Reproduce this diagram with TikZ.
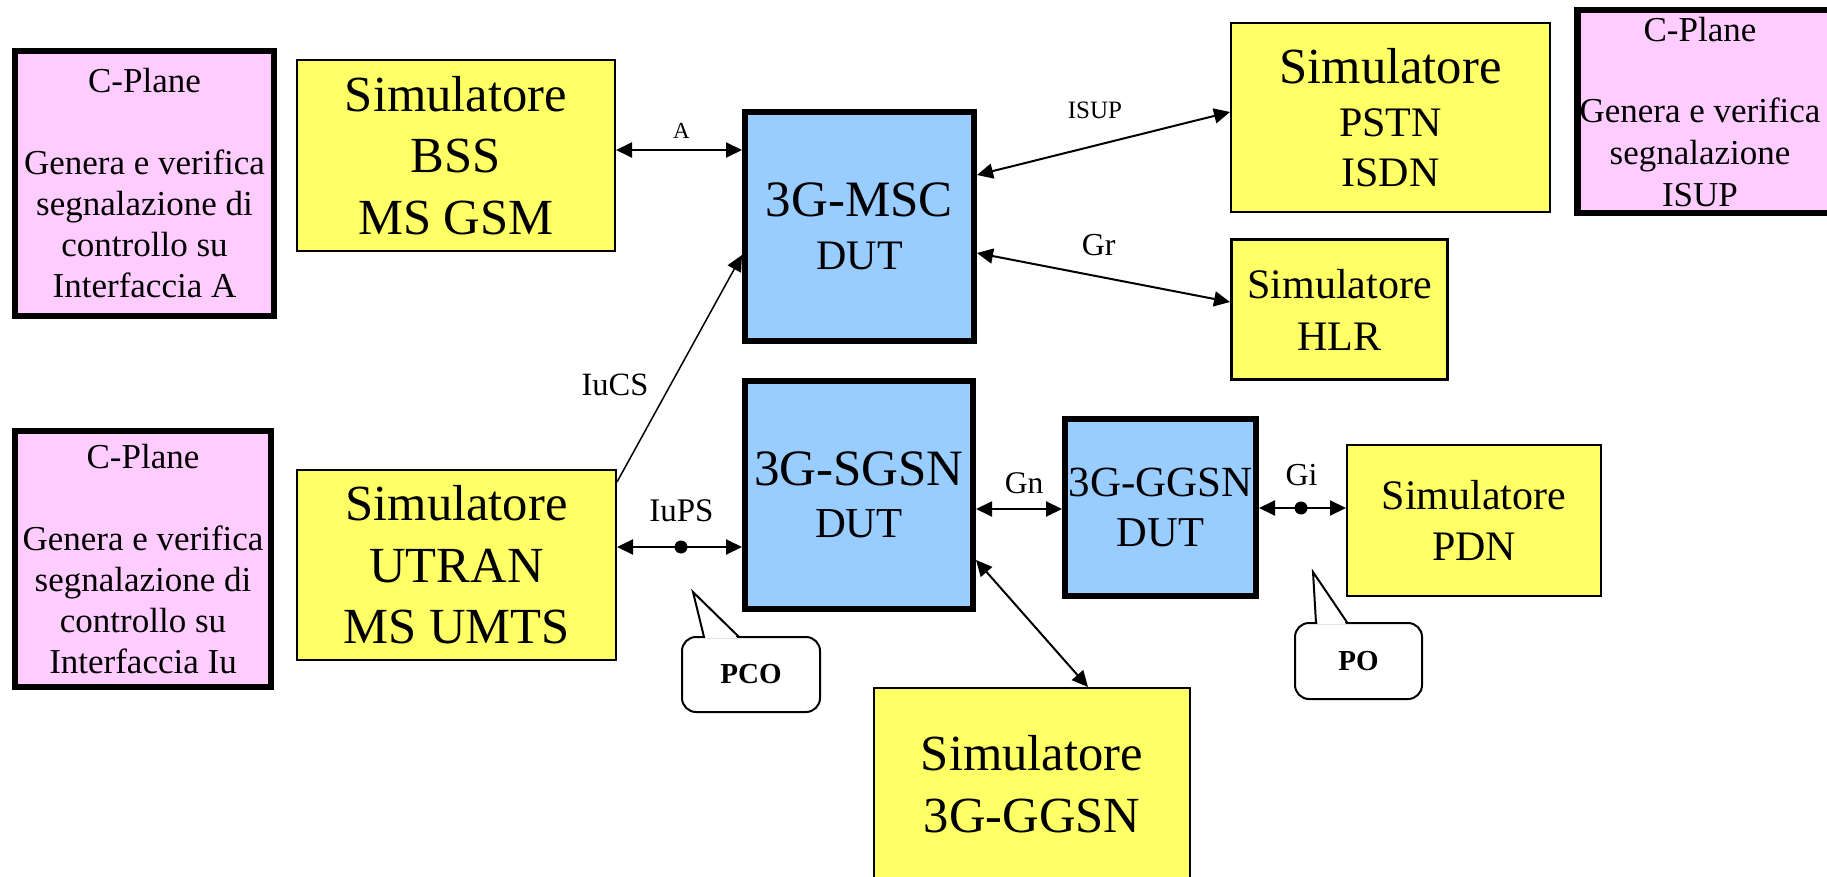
\documentclass[tikz,border=0pt]{standalone}
\usepackage{fontspec}
\setmainfont{Liberation Serif}
\usetikzlibrary{arrows.meta,calc}

\definecolor{simyellow}{HTML}{FFFF66}
\definecolor{cpink}{HTML}{FFCCFF}
\definecolor{dutblue}{HTML}{99CCFF}

\newcommand{\fsz}[2]{\fontsize{#1}{#2}\selectfont}

\begin{document}
\begin{tikzpicture}[x=1pt,y=-1pt,
  sim/.style={draw=black, fill=simyellow, line width=2pt, inner sep=0pt, align=center},
  cplane/.style={draw=black, fill=cpink, line width=6.5pt, inner sep=0pt, align=center, font=\fsz{35}{41}},
  dut/.style={draw=black, fill=dutblue, line width=6pt, inner sep=0pt, align=center},
  tipA/.tip={Triangle[length=16pt,width=15pt]},
  link/.style={line width=2pt, tipA-tipA},
  uplink/.style={line width=1.5pt, -tipA},
  lbl/.style={inner sep=0pt, anchor=base},
  probe/.style={circle, fill=black, inner sep=0pt, minimum size=13pt},
  callbox/.style={draw=black, fill=white, line width=2pt, rounded corners=14pt, inner sep=0pt, font=\bfseries\fsz{29}{35}},
]
\useasboundingbox (0,0) rectangle (1827,877);

% control-plane boxes
\node[cplane, minimum width=259pt, minimum height=265pt] (cpA) at (144.5,183.5)
  {C-Plane\\[41pt]Genera e verifica\\segnalazione di\\controllo su\\Interfaccia A};
\node[cplane, minimum width=256pt, minimum height=256pt] (cpIu) at (143,559)
  {C-Plane\\[41pt]Genera e verifica\\segnalazione di\\controllo su\\Interfaccia Iu};
% the ISUP box runs past the right edge of the sheet
\node[cplane, minimum width=268pt, minimum height=203pt] (cpI) at (1711.25,111.5) {};
\node[inner sep=0pt, align=center, font=\fsz{35}{42}] (cpItext) at (1700,112.5)
  {C-Plane\\[39pt]Genera e verifica\\segnalazione\\ISUP};

% simulators
\node[sim, minimum width=318pt, minimum height=191pt, font=\fsz{50.6}{61.5}] (bss) at (456,155.5)
  {Simulatore\\BSS\\MS GSM};
\node[sim, minimum width=319pt, minimum height=190pt, font=\fsz{50.6}{61.5}] (utran) at (456.5,565)
  {Simulatore\\UTRAN\\MS UMTS};
\node[sim, minimum width=319pt, minimum height=189pt, font=\fsz{42}{50}] (pstn) at (1390.5,117.5)
  {{\fsz{50.6}{50}Simulatore}\\[3.3pt]PSTN\\ISDN};
\node[sim, line width=3pt, minimum width=216pt, minimum height=140pt, font=\fsz{42}{52}] (hlr) at (1339.5,309.5)
  {Simulatore\\HLR};
\node[sim, minimum width=254pt, minimum height=151pt, font=\fsz{42}{51}] (pdn) at (1474,520.5)
  {Simulatore\\PDN};
\node[sim, minimum width=316pt, minimum height=192pt, font=\fsz{50.6}{62}] (ggsnsim) at (1032,784)
  {Simulatore\\3G-GGSN};

% devices under test
\node[dut, minimum width=229pt, minimum height=229pt, font=\fsz{42}{53}, text depth=-6pt] (msc) at (859.5,226.5)
  {{\fsz{51}{53}3G-MSC}\\DUT};
\node[dut, minimum width=228pt, minimum height=228pt, font=\fsz{42.7}{52}, text depth=-2pt] (sgsn) at (859,495)
  {{\fsz{51}{52}3G-SGSN}\\DUT};
\node[dut, minimum width=191pt, minimum height=177pt, font=\fsz{42.5}{50}] (ggsn) at (1160.5,507.5)
  {{\fsz{43}{50}3G-GGSN}\\DUT};

% interfaces
\coordinate (aL) at ([yshift=5.5pt]bss.east);
\draw[link] (aL) -- (aL -| msc.west);
\node[lbl, font=\fsz{23}{28}] (lA) at (681.5,139) {A};

\draw[link] ([yshift=51.5pt]msc.east) -- ([yshift=5.5pt]pstn.west);
\node[lbl, font=\fsz{25}{30}] (lISUP) at (1095,118.3) {ISUP};

\draw[link] ([yshift=-26.5pt]msc.east) -- ([yshift=7.5pt]hlr.west);
\node[lbl, font=\fsz{32}{38}] (lGr) at (1098.7,255) {Gr};

\draw[uplink] ([yshift=83pt]utran.east) -- ([yshift=-28.5pt]msc.west);
\node[lbl, font=\fsz{32.5}{38}] (lIuCS) at (615,395) {IuCS};

\coordinate (iuL) at ([yshift=18pt]utran.east);
\draw[link] (iuL) -- (iuL -| sgsn.west);
\node[probe] (pIuPS) at (681,547) {};
\node[lbl, font=\fsz{33}{38}] (lIuPS) at (681.5,521.7) {IuPS};

\coordinate (gnL) at ([yshift=-14pt]sgsn.east);
\draw[link] (gnL) -- (gnL -| ggsn.west);
\node[lbl, font=\fsz{31.5}{38}] (lGn) at (1024,493.3) {Gn};

\coordinate (giL) at ([yshift=-0.5pt]ggsn.east);
\draw[link] (giL) -- (giL -| pdn.west);
\node[probe] (pGi) at (1301,508) {};
\node[lbl, font=\fsz{32}{38}] (lGi) at (1301.5,485) {Gi};

\draw[link] ([yshift=-65pt]sgsn.east) -- ([xshift=56pt]ggsnsim.north);

% observation point callouts
\node[callbox, minimum width=138pt, minimum height=75pt] (pco) at (751,674.5) {PCO};
\fill[white] ($(pco.north)+(-45.5,2.2)$) -- ($(pco.north)+(-58,-43)$) -- ($(pco.north)+(-13.5,2.2)$) -- cycle;
\draw[line width=2pt, line join=miter] ($(pco.north)+(-47,1)$) -- ($(pco.north)+(-58,-44)$) -- ($(pco.north)+(-12,1)$);

\node[callbox, minimum width=127pt, minimum height=76pt] (po) at (1358.5,661) {PO};
\fill[white] ($(po.north)+(-41,2.2)$) -- ($(po.north)+(-45.5,-49)$) -- ($(po.north)+(-12.5,2.2)$) -- cycle;
\draw[line width=2pt, line join=miter] ($(po.north)+(-42.5,1)$) -- ($(po.north)+(-45.5,-50)$) -- ($(po.north)+(-11,1)$);

\end{tikzpicture}
\end{document}
